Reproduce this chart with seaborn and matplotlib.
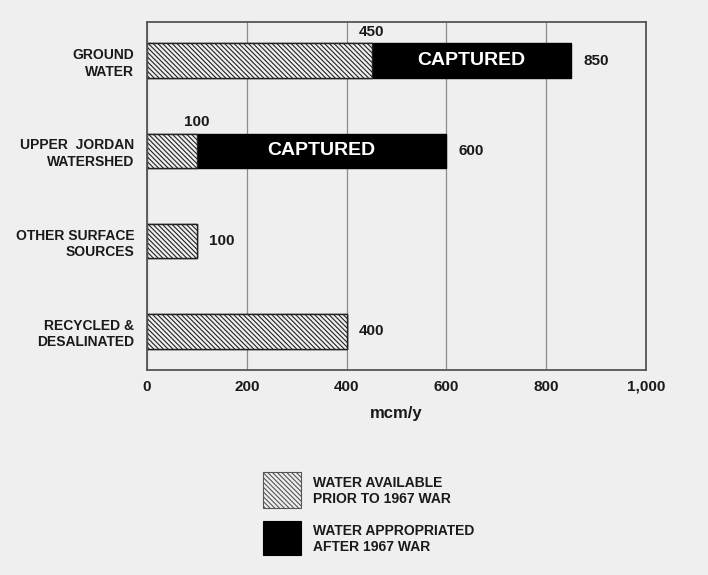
import matplotlib
matplotlib.use("Agg")
import matplotlib.pyplot as plt
from matplotlib.patches import Rectangle
import pandas as pd
import seaborn as sns

# ── Data ──────────────────────────────────────────────────────────────────── #
categories = ["GROUND\nWATER", "UPPER  JORDAN\nWATERSHED",
              "OTHER SURFACE\nSOURCES", "RECYCLED &\nDESALINATED"]
prior_1967 = [450, 100, 100, 400]      # water available prior to 1967 war
after_1967 = [400, 500, 0, 0]          # water appropriated after 1967 war
bar_text = ["CAPTURED", "CAPTURED", "", ""]
x_ticks = [0, 200, 400, 600, 800, 1000]
x_tick_labels = ["0", "200", "400", "600", "800", "1,000"]
legend_labels = ["WATER AVAILABLE\nPRIOR TO 1967 WAR",
                 "WATER APPROPRIATED\nAFTER 1967 WAR"]

# ── Style ─────────────────────────────────────────────────────────────────── #
BG = "#efefef"
HATCH = "\\" * 7
sns.set_theme(style="white")
plt.rcParams["font.family"] = ["Liberation Sans", "DejaVu Sans"]
plt.rcParams["font.weight"] = "bold"
plt.rcParams["hatch.linewidth"] = 0.8

df = pd.DataFrame({"source": categories, "prior": prior_1967, "after": after_1967})
df["total"] = df["prior"] + df["after"]

fig = plt.figure(figsize=(7.08, 5.75), dpi=100, facecolor=BG)
ax = fig.add_axes([0.2076, 0.3565, 0.7048, 0.6052])
ax.set_facecolor(BG)

# black (total) bars first, hatched "prior" bars drawn over them
sns.barplot(data=df, x="total", y="source", orient="h", color="black",
            saturation=1, width=0.385, edgecolor="black", linewidth=1, ax=ax)
sns.barplot(data=df, x="prior", y="source", orient="h", color=BG,
            saturation=1, width=0.385, edgecolor="#222222", linewidth=1,
            hatch=HATCH, ax=ax)

ax.set_xlim(0, 1000)
ax.set_ylim(3.43, -0.43)
ax.set_xticks(x_ticks)
ax.set_xticklabels(x_tick_labels, fontsize=11, fontweight="bold")
ax.set_yticks(range(len(categories)))
ax.set_yticklabels(categories, fontsize=10, fontweight="bold", linespacing=1.25)
ax.tick_params(axis="both", length=0, colors="#1a1a1a")
ax.tick_params(axis="x", pad=7)
ax.tick_params(axis="y", pad=9)
ax.set_xlabel("mcm/y", fontsize=12, fontweight="bold", labelpad=9, color="#1a1a1a")
ax.set_ylabel("")
ax.xaxis.grid(True, color="#8c8c8c", lw=0.9)
ax.yaxis.grid(False)
ax.set_axisbelow(True)
for s in ax.spines.values():
    s.set_color("#555555")
    s.set_linewidth(1.3)

# value labels
for i, (p, a, t) in enumerate(zip(prior_1967, after_1967, bar_text)):
    total = p + a
    if a > 0:
        ax.annotate(str(p), (p, i - 0.385 / 2), xytext=(0, 3), textcoords="offset points",
                    ha="center", va="bottom", fontsize=11, fontweight="bold", color="#1a1a1a")
        ax.text(p + a / 2, i, t, ha="center", va="center", fontsize=14,
                fontweight="bold", color="white")
    ax.annotate(str(total), (total, i), xytext=(9, 0), textcoords="offset points",
                ha="left", va="center", fontsize=11, fontweight="bold", color="#1a1a1a")

# legend
fig.add_artist(Rectangle((0.3715, 0.1165), 0.0537, 0.0626, transform=fig.transFigure,
                         facecolor=BG, edgecolor="#555555", lw=0.8, hatch=HATCH))
fig.add_artist(Rectangle((0.3715, 0.0348), 0.0537, 0.0591, transform=fig.transFigure,
                         facecolor="black", edgecolor="black", lw=0.8))
fig.text(0.442, 0.146, legend_labels[0], ha="left", va="center", fontsize=10,
         fontweight="bold", linespacing=1.25, color="#1a1a1a")
fig.text(0.442, 0.0626, legend_labels[1], ha="left", va="center", fontsize=10,
         fontweight="bold", linespacing=1.25, color="#1a1a1a")

fig.savefig("out.png", dpi=100, facecolor=BG)
